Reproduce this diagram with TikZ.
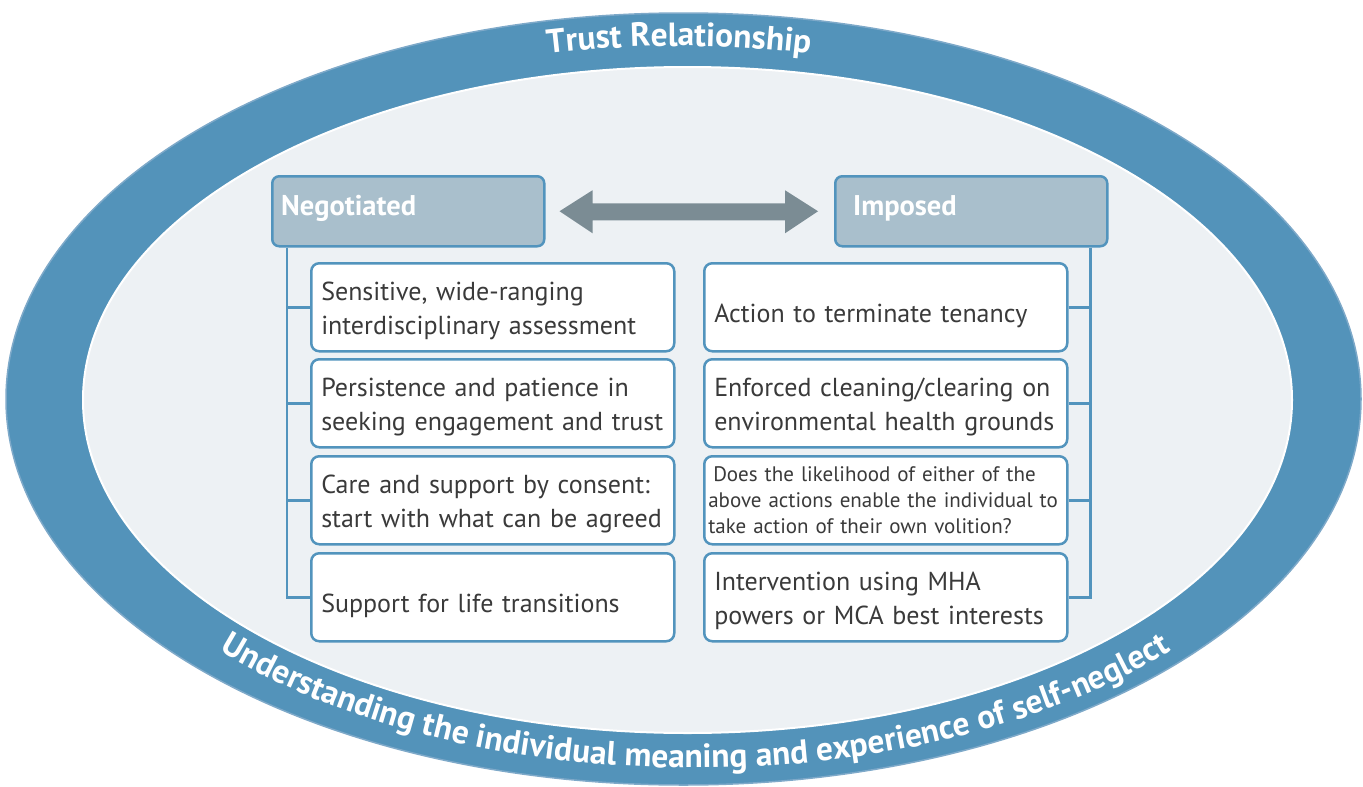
\documentclass[tikz,border=0pt]{standalone}
\usepackage{fontspec}
\setmainfont{PT Sans}
\usetikzlibrary{decorations.text,calc}
\definecolor{ringc}{HTML}{5393BA}
\definecolor{ringedge}{HTML}{7EA9C9}
\definecolor{innerc}{HTML}{EDF1F4}
\definecolor{headc}{HTML}{A9BFCC}
\definecolor{borderc}{HTML}{5294BD}
\definecolor{arrowc}{HTML}{7B8C94}
\definecolor{textc}{HTML}{3A3A3A}
\tikzset{
  header/.style={draw=borderc, fill=headc, rounded corners=7pt, line width=2.5pt,
    minimum width=272pt, minimum height=70pt, inner sep=0pt, anchor=north west},
  headtxt/.style={text=white, font=\fontsize{28.5}{30}\selectfont\bfseries, inner sep=0pt, anchor=base west},
  itembase/.style={draw=borderc, fill=white, rounded corners=8pt, line width=2.5pt,
    minimum width=363pt, minimum height=88pt, text width=343pt, inner xsep=10pt, inner ysep=0pt,
    align=left, anchor=north west, text=textc, font=\fontsize{26}{34}\selectfont},
  item/.style={itembase, execute at begin node={\rule{0pt}{26pt}}},
  oneline/.style={itembase, execute at begin node={\rule{0pt}{36pt}}},
  tree/.style={draw=borderc, line width=2.5pt},
}
\begin{document}
\begin{tikzpicture}[x=1pt,y=-1pt]
\useasboundingbox (0,0) rectangle (1363,787);
% ring
\fill[ringc] (683.5,399) ellipse[x radius=677.5, y radius=386];
\draw[ringedge, line width=1.5pt] (683.5,399) ellipse[x radius=677.5, y radius=386];
\fill[innerc] (687.5,400) ellipse[x radius=604.5, y radius=333];
\draw[white, line width=2pt] (687.5,400) ellipse[x radius=604.5, y radius=333];
% ring texts
\path[decorate, decoration={text along path, text align=center,
  text={|\fontsize{33.5}{33.5}\selectfont\bfseries\color{white}|Trust Relationship}}]
  (679,400) ++(-630,0) arc[start angle=180, end angle=360, x radius=630, y radius=354];
\path[decorate, decoration={text along path, text align=center,
  text={|\fontsize{33.5}{33.5}\selectfont\bfseries\color{white}|Understanding the individual meaning and experience of self-neglect}}]
  (695,400) ++(-650,0) arc[start angle=180, end angle=0, x radius=650, y radius=368];
% headers
\node[header] (neg) at (271,175) {};
\node[headtxt] (negt) at (281,215) {Negotiated};
\node[header] (imp) at (834,175) {};
\node[headtxt] (impt) at (853,215) {Imposed};
% double arrow
\coordinate (aL) at ([xshift=14pt]neg.east);
\coordinate (aR) at ([xshift=-16pt]imp.west);
\fill[arrowc] (aL) -- ++(33,-21) -- ++(0,13) -- ($(aR)+(-33,-8)$) -- ++(0,-13) -- (aR)
  -- ++(-33,22) -- ++(0,-13) -- ($(aL)+(33,9)$) -- ++(0,13) -- cycle;
% left items
\node[item] (l1) at (310,262) {Sensitive, wide-ranging\\interdisciplinary assessment};
\node[item] (l2) at (310,358) {Persistence and patience in\\seeking engagement and trust};
\node[item] (l3) at (310,455) {Care and support by consent:\\start with what can be agreed};
\node[oneline] (l4) at (310,552) {Support for life transitions};
% right items
\node[oneline] (r1) at (703,262) {Action to terminate tenancy};
\node[item] (r2) at (703,358) {Enforced cleaning/clearing on\\environmental health grounds};
\node[itembase, font=\fontsize{21}{26}\selectfont, inner xsep=4pt, text width=355pt] (r3) at (703,455)
  {\hspace*{5pt}Does the likelihood of either of the\\above actions enable the individual to\\take action of their own volition?};
\node[item] (r4) at (703,552) {Intervention using MHA\\powers or MCA best interests};
% tree lines
\coordinate (lt) at ([xshift=16pt]neg.south west);
\draw[tree] (lt) |- (l4.west);
\foreach \n in {l1,l2,l3} \draw[tree] (\n.west) -- (\n.west -| lt);
\coordinate (rt) at ([xshift=-18pt]imp.south east);
\draw[tree] (rt) |- (r4.east);
\foreach \n in {r1,r2,r3} \draw[tree] (\n.east) -- (\n.east -| rt);
\end{tikzpicture}
\end{document}
